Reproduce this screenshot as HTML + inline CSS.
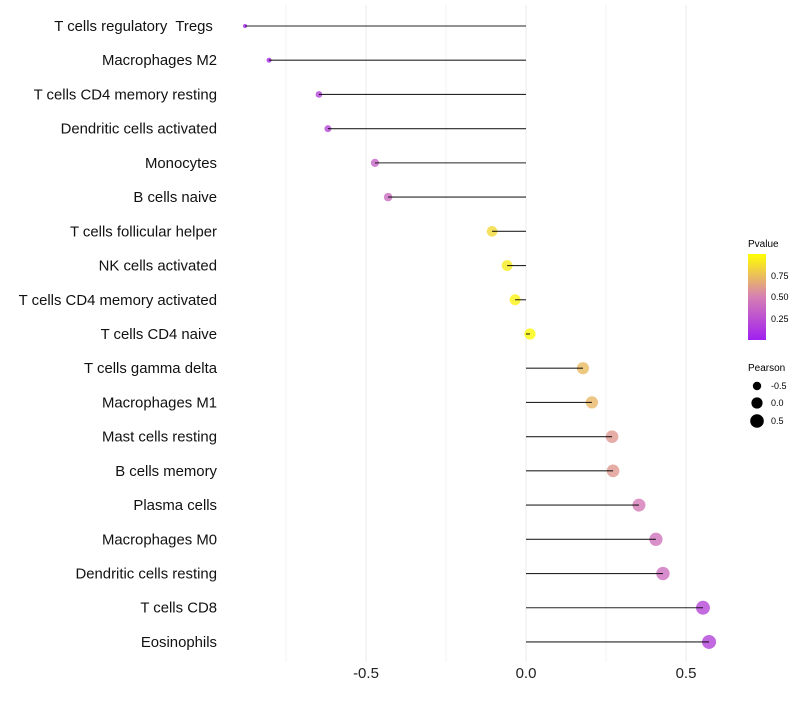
<!DOCTYPE html>
<html><head><meta charset="utf-8"><style>
body{margin:0;background:#fff;font-family:"Liberation Sans",sans-serif}
text{white-space:pre}
</style></head><body>
<svg id="chart" width="800" height="700" xmlns="http://www.w3.org/2000/svg">
<defs><linearGradient id="pg" x1="0" y1="1" x2="0" y2="0">
<stop offset="0" stop-color="#a020f0"/><stop offset="0.5" stop-color="#d67fb4"/><stop offset="1" stop-color="#ffff00"/>
</linearGradient></defs>
<g id="grid"></g><g id="marks"></g><g id="labels"></g>
<g font-size="9" fill="#000">
<text x="748" y="247" font-size="10">Pvalue</text>
<rect x="748" y="254" width="18" height="86" fill="url(#pg)"/>
<text x="771" y="279">0.75</text>
<text x="771" y="300">0.50</text>
<text x="771" y="322">0.25</text>
<text x="748" y="371" font-size="10">Pearson</text>
<circle cx="757" cy="386" r="4.2"/>
<text x="771" y="389">-0.5</text>
<circle cx="757" cy="403" r="5.6"/>
<text x="771" y="406">0.0</text>
<circle cx="757" cy="421" r="6.8"/>
<text x="771" y="424">0.5</text>
</g>
</svg>
<script>
const categories=["T cells regulatory  Tregs ","Macrophages M2","T cells CD4 memory resting","Dendritic cells activated","Monocytes","B cells naive","T cells follicular helper","NK cells activated","T cells CD4 memory activated","T cells CD4 naive","T cells gamma delta","Macrophages M1","Mast cells resting","B cells memory","Plasma cells","Macrophages M0","Dendritic cells resting","T cells CD8","Eosinophils"];
const pearson=[-0.878,-0.803,-0.647,-0.619,-0.472,-0.431,-0.106,-0.059,-0.034,0.0125,0.178,0.206,0.269,0.272,0.353,0.406,0.428,0.553,0.572];
const pvalues=[0.02,0.05,0.18,0.2,0.35,0.4,0.85,0.92,0.95,0.98,0.73,0.72,0.6,0.6,0.48,0.44,0.42,0.2,0.18];
const xTicks=[-0.5,0.0,0.5];
const xTickLabels=["-0.5","0.0","0.5"];
const gridVals=[-0.75,-0.5,-0.25,0,0.25,0.5];
const NS="http://www.w3.org/2000/svg";
const x=v=>526+v*320;
const y=i=>26+i*34.22;
function mk(tag,attrs,parent){const e=document.createElementNS(NS,tag);for(const k in attrs)e.setAttribute(k,attrs[k]);parent.appendChild(e);return e;}
function lerp(a,b,t){return a.map((v,i)=>Math.round(v+(b[i]-v)*t));}
function color(p){const c0=[160,32,240],c1=[214,127,180],c2=[255,255,0];const c=p<0.5?lerp(c0,c1,p/0.5):lerp(c1,c2,(p-0.5)/0.5);return `rgb(${c.join(",")})`;}
const rad=v=>Math.sqrt(Math.max(3,31.3+31*v));
const grid=document.getElementById('grid'),marks=document.getElementById('marks'),labels=document.getElementById('labels');
gridVals.forEach(g=>{const l=mk('line',{x1:x(g),x2:x(g),y1:5,y2:662,stroke:'#ebebeb','stroke-width':Number.isInteger(g*2)?1:0.6},grid);

});
xTicks.forEach((t,i)=>{const tx=mk('text',{x:x(t),y:678,'text-anchor':'middle','font-size':15,fill:'#222'},labels);tx.textContent=xTickLabels[i];

});
categories.forEach((c,i)=>{
const t=mk('text',{x:217,y:y(i)+5,'text-anchor':'end','font-size':14.9,fill:'#111'},labels);t.textContent=c;


const ci=mk('circle',{cx:x(pearson[i]),cy:y(i),r:rad(pearson[i]),fill:color(pvalues[i]),'fill-opacity':0.8},marks);


const l=mk('line',{x1:x(0),x2:x(pearson[i]),y1:y(i),y2:y(i),stroke:'#000','stroke-width':1.1,'stroke-opacity':0.85},marks);


});
</script>
</body></html>
